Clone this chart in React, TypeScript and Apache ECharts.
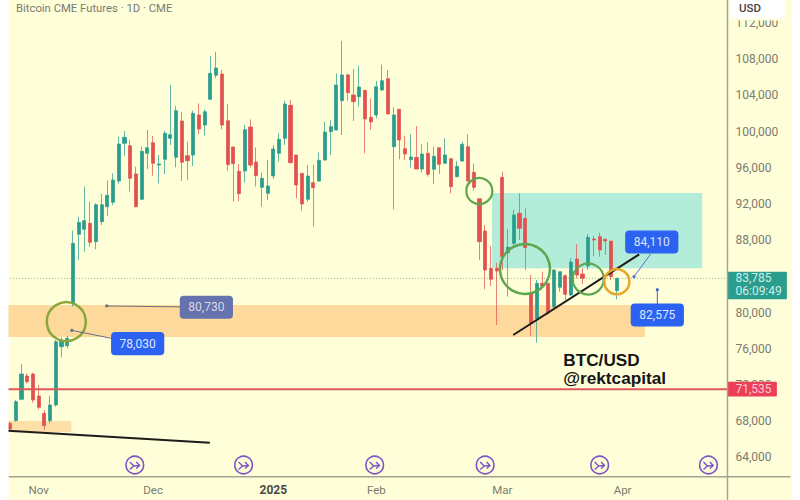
import React, { useEffect, useRef } from "react";
import * as echarts from "echarts";

const TITLE = "Bitcoin CME Futures · 1D · CME";
const monthTicks: [number, string][] = [[5, "Nov"], [25, "Dec"], [46, "2025"], [64, "Feb"], [86, "Mar"], [107, "Apr"]];
const priceTicks = [64000, 68000, 72000, 76000, 80000, 88000, 92000, 96000, 100000, 104000, 108000, 112000];
const priceMin = 61855;
const priceMax = 114555;
const slotCount = 126;

// open, close, low, high
const ohlc: number[][] = [
  [67755,67128,66834,67939],[68050,70150,67939,70335],[70408,73209,70380,74314],[72988,72361,72177,73283],[73209,70335,70040,73356],
  [70777,69523,69303,71993],[68860,67497,67018,69229],[68050,69782,67755,70813],[69782,76783,69598,76968],[76230,76968,75051,77263],
  [76341,77152,76046,77410],[81021,87655,80653,89055],[88649,89976,85811,90602],[89202,90160,86730,93919],[89865,87765,87286,92261],
  [87839,91929,86991,92076],[90050,91929,89681,93108],[91708,92961,90676,94582],[92187,94656,91892,95393],[94545,98636,94214,99446],
  [98709,99373,97346,100073],[98452,94840,93366,99078],[95319,91708,91634,96130],[92519,97825,92445,98341],[97604,98230,95872,100183],
  [98783,96498,95135,99520],[96314,96425,94287,97420],[96941,99815,95319,100110],[99262,99668,98525,105158],[97162,102321,96056,102837],
  [101178,96609,94545,102137],[97346,96793,94656,98894],[97420,102026,96204,102321],[101842,100294,99704,103131],[100736,102210,99557,102468],
  [103574,106448,103500,108364],[106227,107038,105895,108843],[106374,100736,100257,106816],[101215,96351,95688,103058],[98304,96462,92261,98341],
  [95614,93145,92334,96425],[95651,100220,94361,100736],[100515,96314,96056,101363],[96646,95135,93919,98267],[93845,94840,91708,95467],
  [93182,93993,92445,96867],[95099,98084,94767,98526],[97604,99152,96683,99815],[99263,103058,98526,103427],[102911,96573,96499,103500],
  [97420,94104,92630,97420],[95393,92003,91266,95393],[92519,95099,92261,96315],[94362,93809,89497,96315],[94546,96831,94472,97715],
  [96867,99963,96794,101105],[100000,100552,97420,101289],[100184,105159,100110,106448],[103427,106264,99631,110023],[106264,104311,103427,106448],
  [104053,103316,101179,106928],[103869,104938,102763,107296],[104569,101400,97604,104569],[101584,101068,100184,103685],[101842,104974,101474,105601],
  [104606,105638,104532,107407],[105859,101953,101953,106817],[98341,101842,91414,102690],[102469,99078,96941,102469],[98120,97531,96867,99558],
  [96904,97199,96020,99705],[97162,95873,95873,100626],[95873,97531,95467,98599],[97604,95283,95025,98821],[95836,97273,94214,98341],
  [98231,96388,95320,98231],[96499,97420,96425,99263],[97015,93919,93182,97015],[95025,96167,94950,96757],[96757,98599,96683,98894],
  [98341,94546,94472,99705],[95504,93846,93477,96499],[92592,87839,85812,92592],[89018,84706,82569,89681],[84891,83675,82938,87360],
  [84891,84596,78626,85500],[94951,86180,84706,95577],[86623,87212,81758,89239],[87654,90787,87102,91339],[90971,89313,88023,93182],
  [90418,87175,84706,91524],[82053,78810,77447,84154],[79326,83232,76673,83601],[83232,82938,82790,84522],[83232,79990,79732,83232],
  [80653,84706,80469,84780],[82790,84522,82311,84522],[84080,82016,81390,84227],[81943,85591,81832,85996],[85923,84154,83785,87544],
  [84264,83785,83159,84891],[85149,88318,84706,88686],[88134,88023,86254,88465],[88391,86917,86180,88834],[88097,87912,86365,88207],
  [87912,83969,83601,87912],[82422,83785,81464,83785],
];

const lastPrice = 83785;
const countdown = "06:09:49";
const supportPrice = 71535;
// zones: first slot, last slot, top price, bottom price
const orangeZone = [-2, 110.9, 80837, 77300];
const smallZone = [-2, 10.7, 68013, 66764];
const tealZone = [84.2, 120.9, 93218, 84894];
// trend lines: slot, price, slot, price
const longTrend = [-2, 66990, 34.9, 65614];
const riseTrend = [87.9, 77520, 109.9, 86440];
// rings: slot, price
const ringOlive = [9.83, 79100];
const ringSmall = [81.97, 93550];
const ringBig = [89.96, 84820];
const ringMid = [101, 83710];
const ringOrange = [106, 83410];
// price notes: text, dot slot, dot price, box slot (centre), box price (centre), leader end slot, leader end price
const note80730 = ["80,730", 16.9, 80730, 34.3, 80590, 34.3, 80590];
const note78030 = ["78,030", 10.8, 78030, 22.3, 76570, 22.3, 76570];
const note84110 = ["84,110", 109, 83965, 112.1, 87800, 111.9, 86475];
const note82575 = ["82,575", 113.07, 82575, 113.07, 79730, 113.07, 79730];
const arrowSlots = [21.8, 40.8, 63.7, 83, 103, 122];
const arrowPrice = 63150;
const watermark = ["BTC/USD", "@rektcapital"];

const categories: string[] = Array.from({ length: slotCount }, (_, i) => {
  const t = monthTicks.find((m) => m[0] === i);
  return t ? t[1] : "";
});

const TEAL = "#2a9d8f";
const RED = "#e2514f";
const PANEL = "#fefed8";
const FONT = "Roboto, sans-serif";

function zonesRender(_p: any, api: any) {
  const r = (z: number[], fill: string) => {
    const a = api.coord([z[0], z[2]]);
    const b = api.coord([z[1], z[3]]);
    return { type: "rect", shape: { x: a[0], y: a[1], width: b[0] - a[0], height: b[1] - a[1] }, style: { fill } };
  };
  const ya = api.coord([0, lastPrice]);
  const cs = _p.coordSys;
  return {
    type: "group",
    children: [
      r(tealZone, "#b3ecd9"),
      r(orangeZone, "#fdd99b"),
      r(smallZone, "#fde0a8"),
      {
        type: "line",
        shape: { x1: cs.x, y1: ya[1], x2: cs.x + cs.width, y2: ya[1] },
        style: { stroke: "#8fae98", lineWidth: 1, lineDash: [1, 2] },
      },
    ],
  };
}

function overlayRender(_p: any, api: any) {
  const cs = _p.coordSys;
  const children: any[] = [];
  const line = (t: number[], lineWidth: number, stroke: string) => {
    const a = api.coord([t[0], t[1]]);
    const b = api.coord([t[2], t[3]]);
    children.push({ type: "line", shape: { x1: a[0], y1: a[1], x2: b[0], y2: b[1] }, style: { stroke, lineWidth } });
  };
  const ring = (c: number[], r: number, stroke: string, lineWidth: number) => {
    const a = api.coord(c);
    children.push({ type: "circle", shape: { cx: a[0], cy: a[1], r }, style: { fill: "none", stroke, lineWidth } });
  };
  const note = (n: any[], fill: string, color: string, lineColor: string) => {
    const d = api.coord([n[1], n[2]]);
    const b = api.coord([n[3], n[4]]);
    const e = api.coord([n[5], n[6]]);
    children.push({ type: "line", shape: { x1: d[0], y1: d[1], x2: e[0], y2: e[1] }, style: { stroke: lineColor, lineWidth: 1 } });
    children.push({ type: "circle", shape: { cx: d[0], cy: d[1], r: 1.6 }, style: { fill: lineColor } });
    children.push({ type: "rect", shape: { x: b[0] - 26.6, y: b[1] - 11.6, width: 53.2, height: 23.2, r: 4 }, style: { fill } });
    children.push({ type: "text", x: b[0], y: b[1], style: { text: n[0], fill: color, font: `12px ${FONT}`, align: "center", verticalAlign: "middle" } });
  };

  line(longTrend, 2, "#1c1c1c");
  line(riseTrend, 2, "#1c1c1c");
  ring(ringOlive, 19.5, "#8aa53c", 2.5);
  ring(ringSmall, 13, "#5fa64f", 2.2);
  ring(ringBig, 25, "#5fa64f", 2.5);
  ring(ringMid, 15.5, "#5fa64f", 2.2);
  ring(ringOrange, 12.5, "#e8a52c", 2.5);

  note(note80730, "#6672ad", "#d7d8e6", "#6f6f78");
  note(note78030, "#2b62f2", "#dde6ff", "#66708f");
  note(note84110, "#2b62f2", "#dde6ff", "#4f6fd0");
  note(note82575, "#2b62f2", "#dde6ff", "#3f63c8");

  // support level and its tag
  const sy = api.coord([0, supportPrice])[1];
  const axisX = cs.x + cs.width - 1;
  children.push({ type: "line", shape: { x1: cs.x, y1: sy, x2: axisX, y2: sy }, style: { stroke: "#dd5a5c", lineWidth: 2 } });
  children.push({ type: "rect", shape: { x: axisX, y: sy - 7.3, width: 49.4, height: 14.6, r: 1 }, style: { fill: "#ee3f58" } });
  children.push({ type: "text", x: axisX + 8, y: sy, style: { text: "71,535", fill: "#f6ccd2", font: `12px ${FONT}`, verticalAlign: "middle" } });

  // last price tag
  const ly = api.coord([0, lastPrice])[1];
  children.push({ type: "rect", shape: { x: axisX, y: ly - 6.5, width: 59.4, height: 27.3, r: 1 }, style: { fill: TEAL } });
  children.push({ type: "text", x: axisX + 8, y: ly, style: { text: "83,785", fill: "#cfeee6", font: `12px ${FONT}`, verticalAlign: "middle" } });
  children.push({ type: "text", x: axisX + 8, y: ly + 12.6, style: { text: countdown, fill: "#cfeee6", font: `12px ${FONT}`, verticalAlign: "middle" } });

  // roll-over markers
  arrowSlots.forEach((s) => {
    const [x, y] = api.coord([s, arrowPrice]);
    const stroke = "#7c55c7";
    children.push({ type: "circle", shape: { cx: x, cy: y, r: 8.8 }, style: { fill: "none", stroke, lineWidth: 1.6 } });
    children.push({ type: "polyline", shape: { points: [[x - 5, y - 3], [x - 1, y + 1], [x + 4.8, y + 0.5]] }, style: { fill: "none", stroke, lineWidth: 1.4 } });
    children.push({ type: "line", shape: { x1: x - 5, y1: y + 4.6, x2: x - 1, y2: y + 1 }, style: { stroke, lineWidth: 1.4 } });
    children.push({ type: "polyline", shape: { points: [[x + 1.4, y - 3], [x + 4.8, y + 0.5], [x + 1.4, y + 3.6]] }, style: { fill: "none", stroke, lineWidth: 1.4 } });
  });

  // watermark
  watermark.forEach((text, i) => {
    children.push({
      type: "text",
      x: 563.3,
      y: 359.8 + i * 18,
      style: { text, fill: "#161616", font: `bold 17.2px "Liberation Sans", Arial, sans-serif`, verticalAlign: "middle" },
    });
  });

  return { type: "group", children };
}

export default function App() {
  const ref = useRef<HTMLDivElement>(null);
  useEffect(() => {
    if (!ref.current) return;
    const chart = echarts.init(ref.current, undefined, { renderer: "svg" });
    chart.setOption({
      animation: false,
      backgroundColor: "#ffffff",
      textStyle: { fontFamily: FONT },
      grid: { left: 7.14, width: 721.35, top: 0, height: 476.7, containLabel: false },
      xAxis: [
        {
          type: "category",
          data: categories,
          axisLine: { show: false },
          axisTick: { show: false },
          splitLine: { show: false },
          axisLabel: {
            interval: 0,
            margin: 7,
            fontSize: 11.5,
            color: "#7b7b70",
            fontFamily: FONT,
            formatter: (v: string) => (v === "2025" ? `{b|${v}}` : v),
            rich: { b: { fontWeight: "bold", fontSize: 12, color: "#4a4a44", fontFamily: FONT } },
          },
        },
        { type: "value", min: -0.5, max: slotCount - 0.5, show: false },
      ],
      yAxis: {
        type: "value",
        position: "right",
        offset: -1,
        min: priceMin,
        max: priceMax,
        scale: true,
        axisLine: { show: false },
        axisTick: { show: false },
        splitLine: { show: false },
        axisLabel: {
          customValues: priceTicks,
          margin: 8,
          fontSize: 12,
          color: "#7b7b70",
          fontFamily: FONT,
          formatter: (v: number) => v.toLocaleString("en-US"),
        },
      },
      graphic: [
        { type: "rect", z: -10, shape: { x: 8.5, y: 0, width: 783.2, height: 500 }, style: { fill: PANEL } },
        { type: "rect", z: 50, shape: { x: 0, y: 0, width: 8.5, height: 500 }, style: { fill: "#ffffff" } },
        { type: "line", z: 40, shape: { x1: 8.5, y1: 476.7, x2: 790.5, y2: 476.7 }, style: { stroke: "#a3a394", lineWidth: 1.4 } },
        { type: "line", z: 40, shape: { x1: 727.5, y1: 0, x2: 727.5, y2: 500 }, style: { stroke: "#a3a394", lineWidth: 1.4 } },
        {
          type: "rect",
          z: 50,
          shape: { x: 730, y: 0, width: 55, height: 20.5 },
          style: {
            fill: new echarts.graphic.LinearGradient(0, 0, 0, 1, [
              { offset: 0, color: "#ffffff" },
              { offset: 0.8, color: "#ffffff" },
              { offset: 1, color: PANEL },
            ]),
          },
        },
        { type: "text", z: 51, x: 739, y: 7.5, style: { text: "USD", fill: "#44443f", font: `500 11.5px ${FONT}`, verticalAlign: "middle" } },
        { type: "text", z: 51, x: 16, y: 8.5, style: { text: TITLE, fill: "#7a7a74", font: `11.3px ${FONT}`, verticalAlign: "middle" } },
      ],
      series: [
        {
          type: "custom",
          name: "zones",
          z: 1,
          xAxisIndex: 1,
          clip: true,
          renderItem: zonesRender,
          data: [[0, lastPrice]],
          encode: { x: 0, y: 1 },
          silent: true,
        },
        {
          type: "candlestick",
          name: "BTC",
          z: 2,
          xAxisIndex: 0,
          barWidth: 3.6,
          data: ohlc,
          itemStyle: {
            color: TEAL,
            color0: RED,
            borderColor: "rgba(42,157,143,0.72)",
            borderColor0: "rgba(226,81,79,0.72)",
            borderWidth: 1,
          },
        },
        {
          type: "custom",
          name: "annotations",
          z: 3,
          xAxisIndex: 1,
          clip: false,
          renderItem: overlayRender,
          data: [[0, lastPrice]],
          encode: { x: 0, y: 1 },
          silent: true,
        },
      ],
    });
    return () => chart.dispose();
  }, []);
  return <div ref={ref} style={{ position: "fixed", left: 0, top: 0, width: 800, height: 500 }} />;
}
